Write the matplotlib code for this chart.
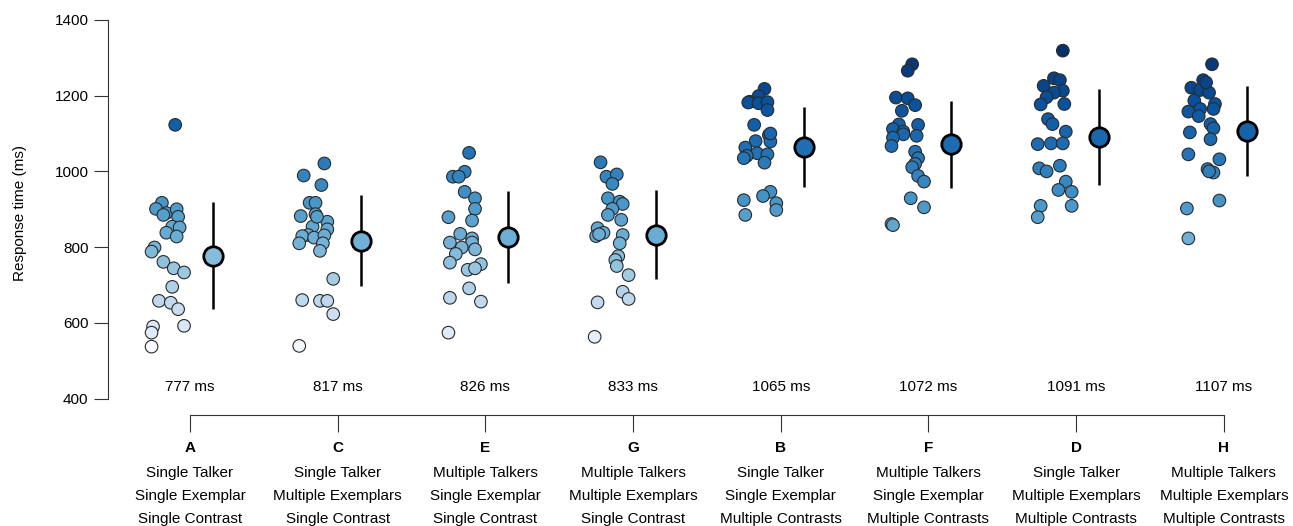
import matplotlib
matplotlib.use("Agg")
import matplotlib.pyplot as plt
from matplotlib import colors as mcolors
import numpy as np

plt.rcParams['font.family'] = ['Liberation Sans', 'DejaVu Sans']

# ---- data -----------------------------------------------------------------
letters = ["A", "C", "E", "G", "B", "F", "D", "H"]
talker = ["Single Talker", "Single Talker", "Multiple Talkers", "Multiple Talkers",
          "Single Talker", "Multiple Talkers", "Single Talker", "Multiple Talkers"]
exemplar = ["Single Exemplar", "Multiple Exemplars", "Single Exemplar", "Multiple Exemplars",
            "Single Exemplar", "Single Exemplar", "Multiple Exemplars", "Multiple Exemplars"]
contrast = ["Single Contrast", "Single Contrast", "Single Contrast", "Single Contrast",
            "Multiple Contrasts", "Multiple Contrasts", "Multiple Contrasts", "Multiple Contrasts"]

means = [777, 817, 826, 833, 1065, 1072, 1091, 1107]
sds = [141, 120, 122, 118, 105, 115, 127, 119]

rt_A = [1123, 917, 901, 890, 885, 900, 880, 854, 852, 838, 828, 799, 788, 761, 744, 733,
        695, 658, 653, 636, 592, 590, 574, 537]
rt_C = [1021, 989, 964, 917, 917, 882, 887, 867, 854, 847, 832, 829, 825, 831, 810, 810,
        790, 716, 660, 658, 658, 623, 539, 880]
rt_E = [1049, 999, 986, 986, 946, 929, 901, 870, 879, 835, 812, 823, 812, 799, 794, 782,
        759, 755, 740, 744, 691, 666, 656, 574]
rt_G = [1024, 986, 992, 967, 929, 920, 914, 901, 885, 872, 850, 838, 829, 834, 832, 810,
        776, 766, 750, 726, 682, 663, 654, 563]
rt_B = [1218, 1199, 1184, 1182, 1180, 1183, 1162, 1123, 1096, 1079, 1080, 1063, 1048, 1045,
        1041, 1035, 1023, 946, 935, 924, 916, 898, 885, 1100]
rt_F = [1283, 1266, 1195, 1193, 1175, 1160, 1124, 1123, 1112, 1105, 1098, 1094, 1089, 1067,
        1052, 1035, 1020, 1011, 988, 973, 929, 905, 861, 858]
rt_D = [1319, 1246, 1241, 1226, 1213, 1208, 1196, 1177, 1178, 1138, 1125, 1105, 1072, 1074,
        1074, 1008, 1015, 973, 951, 946, 909, 909, 879, 1000]
rt_H = [1283, 1241, 1221, 1215, 1208, 1187, 1178, 1165, 1165, 1158, 1146, 1125, 1114, 1103,
        1085, 1045, 1032, 1006, 997, 1000, 923, 902, 823, 1235]

# horizontal jitter (in hundredths of a category step)
jit_A = [-10, -19, -23, -16, -18, -9, -8, -12, -7, -16, -9, -24, -26, -18, -11, -4,
         -12, -21, -13, -8, -4, -25, -26, -26]
jit_C = [-9, -23, -11, -19, -15, -25, -15, -7, -17, -7, -20, -24, -16, -9, -26, -10,
         -12, -3, -24, -12, -7, -3, -26, -14]
jit_E = [-11, -14, -22, -18, -14, -7, -7, -9, -25, -17, -24, -9, -9, -16, -7, -20,
         -24, -3, -12, -7, -11, -24, -3, -25]
jit_G = [-22, -18, -11, -14, -17, -9, -7, -14, -17, -8, -24, -20, -25, -23, -7, -9,
         -10, -12, -11, -3, -7, -3, -24, -26]
jit_B = [-11, -15, -21, -22, -15, -9, -9, -18, -8, -7, -17, -24, -16, -9, -23, -25,
         -11, -7, -12, -25, -3, -3, -24, -7]
jit_F = [-11, -14, -22, -14, -9, -18, -20, -7, -24, -17, -17, -8, -24, -25, -9, -7,
         -9, -11, -7, -3, -12, -3, -25, -24]
jit_D = [-9, -15, -11, -22, -9, -15, -20, -24, -8, -19, -16, -7, -26, -17, -9, -25,
         -11, -7, -12, -3, -24, -3, -26, -20]
jit_H = [-8, -14, -22, -16, -10, -20, -6, -7, -16, -24, -17, -9, -7, -23, -9, -24,
         -3, -11, -7, -10, -3, -25, -24, -12]

groups = [rt_A, rt_C, rt_E, rt_G, rt_B, rt_F, rt_D, rt_H]
jitters = [jit_A, jit_C, jit_E, jit_G, jit_B, jit_F, jit_D, jit_H]

# ---- figure -----------------------------------------------------------------
fig = plt.figure(figsize=(12.93, 5.26), dpi=100)
ax = fig.add_axes([0.0835, 0.2110, 0.9064, 0.7700])

allv = np.concatenate([np.array(g) for g in groups])
norm = mcolors.PowerNorm(gamma=0.7, vmin=allv.min(), vmax=allv.max())
cmap = plt.get_cmap('Blues')

mean_offset = 0.156
for i, (vals, jit) in enumerate(zip(groups, jitters)):
    xpos = (i + 1) + np.array(jit) / 100.0
    ax.scatter(xpos, vals, s=82, c=cmap(norm(np.array(vals))), edgecolors='#2a2a2a',
               linewidths=0.8, zorder=3)
    xm = i + 1 + mean_offset
    ax.plot([xm, xm], [means[i] - sds[i], means[i] + sds[i]], color='black', lw=1.8,
            zorder=4, solid_capstyle='butt')
    ax.scatter([xm], [means[i]], s=195, color=cmap(norm(means[i])), edgecolors='black',
               linewidths=2.0, zorder=5)
    ax.annotate(f"{means[i]} ms", xy=(i + 1, 0), xycoords=('data', 'axes fraction'),
                xytext=(0, 20), textcoords='offset points', ha='center', va='center',
                fontsize=11)
    ax.annotate(letters[i], xy=(i + 1, 0), xycoords=('data', 'axes fraction'),
                xytext=(0, -23.5), textcoords='offset points', ha='center', va='center',
                fontsize=11, fontweight='bold')
    for k, line in enumerate([talker[i], exemplar[i], contrast[i]]):
        ax.annotate(line, xy=(i + 1, 0), xycoords=('data', 'axes fraction'),
                    xytext=(0, -41.5 - 16.8 * k), textcoords='offset points',
                    ha='center', va='center', fontsize=11)

ax.set_xlim(0.4448, 8.38)
ax.set_ylim(356.4, 1426.4)
ax.set_xticks(range(1, 9))
ax.set_xticklabels([])
ax.set_yticks([400, 600, 800, 1000, 1200, 1400])
ax.tick_params(axis='y', direction='out', length=10, width=0.8, pad=4, labelsize=11,
               color='#333333')
ax.tick_params(axis='x', direction='out', length=12, width=0.8, color='#333333')
for s in ['top', 'right']:
    ax.spines[s].set_visible(False)
ax.spines['left'].set_bounds(400, 1400)
ax.spines['bottom'].set_bounds(1, 8)
for s in ['left', 'bottom']:
    ax.spines[s].set_linewidth(0.8)
    ax.spines[s].set_color('#333333')
ax.set_ylabel("Response time (ms)", fontsize=11, labelpad=20)

fig.savefig("out.png", dpi=100)
